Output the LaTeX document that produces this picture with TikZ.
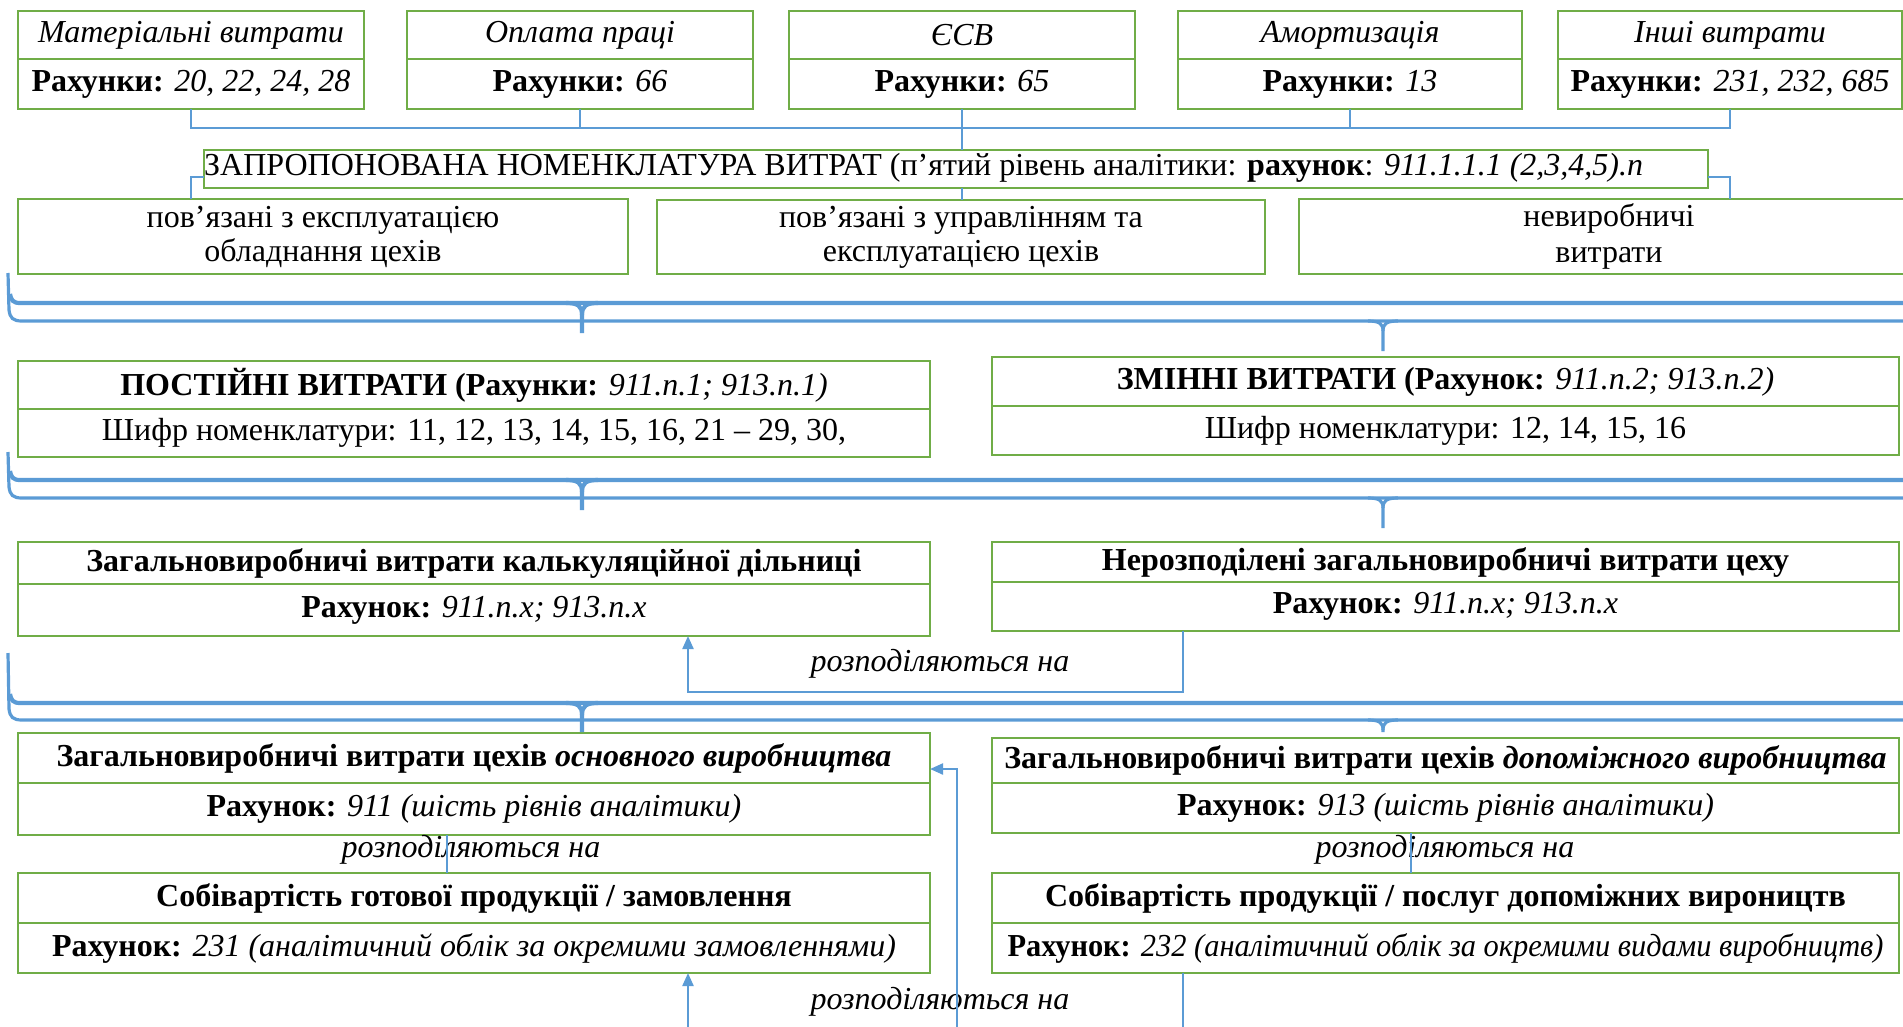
\documentclass[tikz,border=0pt]{standalone}
\usepackage{fontspec}
\setmainfont{Liberation Serif}
\usetikzlibrary{arrows.meta}
\definecolor{grn}{HTML}{70AD47}
\definecolor{blu}{HTML}{5B9BD5}
\begin{document}
\begin{tikzpicture}[x=1pt,y=-1pt,
  cell/.style={draw=grn, line width=2.6pt, anchor=north west, inner sep=0pt, outer sep=0pt, align=center, font=\fontsize{32}{34}\selectfont},
  conn/.style={draw=blu, line width=1.6pt},
  arr/.style={draw=blu, line width=2.2pt, -{Triangle[length=13pt,width=11pt]}},
  brA/.style={draw=blu, line width=4.2pt},
  brB/.style={draw=blu, line width=3.2pt},
  lbl/.style={font=\fontsize{32}{34}\selectfont\itshape, inner sep=0pt}
]
\path[use as bounding box] (0,0) rectangle (1903,1026);
\clip (0,0) rectangle (1903,1026);

% top row
\node[cell, minimum width=346pt, minimum height=48pt] (m1t) at (18,11) {\itshape Матеріальні витрати};
\node[cell, minimum width=346pt, minimum height=50pt] (m1b) at (18,59) {\textbf{Рахунки:} \textit{20, 22, 24, 28}};
\node[cell, minimum width=346pt, minimum height=48pt] (m2t) at (407,11) {\itshape Оплата праці};
\node[cell, minimum width=346pt, minimum height=50pt] (m2b) at (407,59) {\textbf{Рахунки:} \textit{66}};
\node[cell, minimum width=346pt, minimum height=48pt] (m3t) at (789,11) {\itshape ЄСВ};
\node[cell, minimum width=346pt, minimum height=50pt] (m3b) at (789,59) {\textbf{Рахунки:} \textit{65}};
\node[cell, minimum width=344pt, minimum height=48pt] (m4t) at (1178,11) {\itshape Амортизація};
\node[cell, minimum width=344pt, minimum height=50pt] (m4b) at (1178,59) {\textbf{Рахунки:} \textit{13}};
\node[cell, minimum width=344pt, minimum height=48pt] (m5t) at (1558,11) {\itshape Інші витрати};
\node[cell, minimum width=344pt, minimum height=50pt] (m5b) at (1558,59) {\textbf{Рахунки:} \textit{231, 232, 685}};

% nomenclature
\node[cell, minimum width=1504pt, minimum height=38pt] (nom) at (204,150) {};
\node[anchor=west, inner sep=0pt, font=\fontsize{32}{34}\selectfont] (nomtxt) at ([yshift=1pt]nom.west) {ЗАПРОПОНОВАНА НОМЕНКЛАТУРА ВИТРАТ (п’ятий рівень аналітики: \textbf{рахунок}: \textit{911.1.1.1 (2,3,4,5).n}};

% second row
\node[cell, minimum width=610pt, minimum height=75pt] (r1) at (18,199) {пов’язані з експлуатацією\\обладнання цехів};
\node[cell, minimum width=608pt, minimum height=74pt] (r2) at (657,200) {пов’язані з управлінням та\\експлуатацією цехів};
\node[cell, minimum width=620pt, minimum height=75pt] (r3) at (1299,199) {невиробничі\\[2pt]витрати};

% fixed / variable
\node[cell, minimum width=912pt, minimum height=48pt] (pt) at (18,361) {\textbf{ПОСТІЙНІ ВИТРАТИ (Рахунки:} \textit{911.n.1; 913.n.1)}};
\node[cell, minimum width=912pt, minimum height=48pt] (pb) at (18,409) {Шифр номенклатури: 11, 12, 13, 14, 15, 16, 21 – 29, 30,};
\node[cell, minimum width=907pt, minimum height=49pt] (zt) at (992,357) {\textbf{ЗМІННІ ВИТРАТИ (Рахунок:} \textit{911.n.2; 913.n.2)}};
\node[cell, minimum width=907pt, minimum height=49pt] (zb) at (992,406) {Шифр номенклатури: 12, 14, 15, 16};

% calc / undistributed
\node[cell, minimum width=912pt, minimum height=42pt] (kt) at (18,542) {\textbf{Загальновиробничі витрати калькуляційної дільниці}};
\node[cell, minimum width=912pt, minimum height=52pt] (kb) at (18,584) {\textbf{Рахунок:} \textit{911.n.x; 913.n.x}};
\node[cell, minimum width=907pt, minimum height=40pt] (nt) at (992,542) {\textbf{Нерозподілені загальновиробничі витрати цеху}};
\node[cell, minimum width=907pt, minimum height=49pt] (nb) at (992,582) {\textbf{Рахунок:} \textit{911.n.x; 913.n.x}};

% main / auxiliary
\node[cell, minimum width=912pt, minimum height=50pt] (ot) at (18,733) {\textbf{Загальновиробничі витрати цехів \textit{основного виробництва}}};
\node[cell, minimum width=912pt, minimum height=52pt] (ob) at (18,783) {\textbf{Рахунок:} \textit{911 (шість рівнів аналітики)}};
\node[cell, minimum width=907pt, minimum height=45pt] (dt) at (992,738) {\textbf{Загальновиробничі витрати цехів \textit{допоміжного виробництва}}};
\node[cell, minimum width=907pt, minimum height=50pt] (db) at (992,783) {\textbf{Рахунок:} \textit{913 (шість рівнів аналітики)}};

% cost
\node[cell, minimum width=912pt, minimum height=50pt] (st) at (18,873) {\textbf{Собівартість готової продукції / замовлення}};
\node[cell, minimum width=912pt, minimum height=50pt] (sb) at (18,923) {\textbf{Рахунок:} \textit{231 (аналітичний облік за окремими замовленнями)}};
\node[cell, minimum width=907pt, minimum height=50pt] (qt) at (992,873) {\textbf{Собівартість продукції / послуг допоміжних вироництв}};
\node[cell, minimum width=907pt, minimum height=50pt] (qb) at (992,923) {\scalebox{0.95}[1]{\textbf{Рахунок:} \textit{232 (аналітичний облік за окремими видами виробництв)}}};

% braces
\foreach \t/\b/\s/\ea/\eb in {303/321/273/333/351, 480/498/452/510/528, 703/720/653/732/732}{
  \draw[brB] (8,\s) -- (9,{\b-11}) .. controls (10,{\b-3}) and (13,\b) .. (22,\b) -- (1910,\b);
  \draw[brB] (1368,\b) .. controls (1380,\b) and (1383,{\b+3}) .. (1383,{\b+10}) -- (1383,\eb);
  \draw[brB] (1398,\b) .. controls (1386,\b) and (1383,{\b+3}) .. (1383,{\b+10});
  \draw[brA] (10,{\t-9}) .. controls (11,{\t-3}) and (13,\t) .. (20,\t) -- (1910,\t);
  \draw[brA] (566,\t) .. controls (578,\t) and (582,{\t+3}) .. (582,{\t+12}) -- (582,\ea);
  \draw[brA] (598,\t) .. controls (586,\t) and (582,{\t+3}) .. (582,{\t+12});
}

% top connectors
\coordinate (bus) at (0,128);
\coordinate (nl) at (0,177);
\draw[conn] (m1b.south) -- (m1b.south |- bus) -- (m5b.south |- bus) -- (m5b.south);
\draw[conn] (m2b.south) -- (m2b.south |- bus);
\draw[conn] (m4b.south) -- (m4b.south |- bus);
\draw[conn] (m3b.south) -- (m3b.south |- nom.north);
\draw[conn] (nom.south -| m3b.south) -- (r2.north -| m3b.south);
\draw[conn] (nom.west |- nl) -- (m1b.south |- nl) -- (m1b.south |- r1.north);
\draw[conn] (nom.east |- nl) -- (m5b.south |- nl) -- (m5b.south |- r3.north);

% labels
\node[lbl] (l1) at (940,664) {розподіляються на};
\node[lbl] (l2) at (471,850) {розподіляються на};
\node[lbl] (l3) at (1445,850) {розподіляються на};
\node[lbl] (l4) at (940,1002) {розподіляються на};

% arrows
\coordinate (a1) at (1183,692);
\coordinate (a2) at (688,692);
\draw[arr] (nb.south -| a1) -- (a1) -- (a2) -- (kb.south -| a2);
\coordinate (c1) at (447,0);
\draw[conn] (ob.south -| c1) -- (st.north -| c1);
\coordinate (c2) at (1411,0);
\draw[conn] (db.south -| c2) -- (qt.north -| c2);
\coordinate (b1) at (688,1030);
\draw[arr] (b1) -- (sb.south -| b1);
\coordinate (b2) at (1183,1030);
\draw[conn] (qb.south -| b2) -- (b2);
\coordinate (b3) at (957,1030);
\coordinate (b4) at (957,769);
\draw[arr] (b3) -- (b4) -- (ot.east |- b4);
\end{tikzpicture}
\end{document}
